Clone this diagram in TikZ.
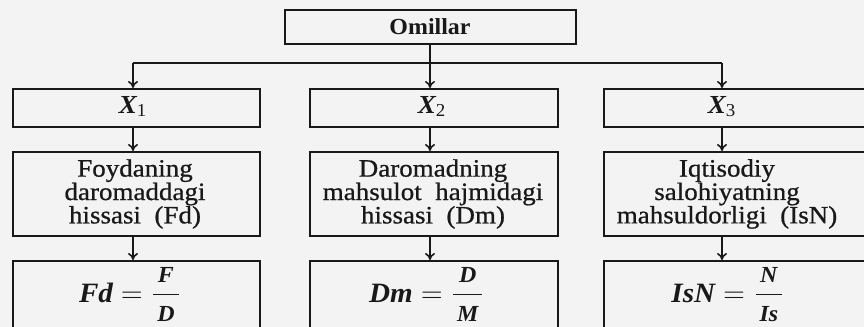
\documentclass[tikz,border=0pt]{standalone}
\usepackage{amsmath}
\usepackage{fontspec}
\setmainfont{Liberation Serif}
\newfontfamily\kitob[FakeStretch=1.08, FakeBold=0.8]{Liberation Serif}
\newfontfamily\qalin[FakeStretch=1.04]{Liberation Serif}
\usetikzlibrary{arrows.meta}
\definecolor{qogoz}{RGB}{243,243,243}
\definecolor{siyoh}{RGB}{25,25,25}
\newcommand\kasrqism[1]{\mbox{\hspace{2pt}\qalin\bfseries\itshape\fontsize{11.5}{13}\selectfont #1\hspace{2pt}}}
\newcommand\kasr[2]{\dfrac{\kasrqism{#1}}{\kasrqism{#2}}}
\newcommand\indeks[1]{_{\text{\mdseries\upshape #1}}}

\begin{document}
\begin{tikzpicture}[
    x=0.5pt, y=-0.5pt,
    >={To[length=3.5pt, width=5pt]},
    ramka/.style={draw=siyoh, line width=1pt, inner sep=0pt, anchor=north west},
    matn/.style={align=center, inner sep=0pt, text=siyoh, font=\kitob\fontsize{12.5}{11.7}\selectfont},
    belgi/.style={inner sep=0pt, anchor=base, text=siyoh, font=\qalin\bfseries\fontsize{13}{15}\selectfont},
    formula/.style={inner sep=0pt, anchor=base, text=siyoh, font=\qalin\bfseries\fontsize{14}{16}\selectfont},
    strelka/.style={->, draw=siyoh, line width=0.8pt}
]

% Sahifa
\fill[qogoz] (0,0) rectangle (864,327);
\useasboundingbox (0,0) rectangle (864,327);
\clip (0,0) rectangle (864,327);

% Yuqori blok
\node[ramka, anchor=center, minimum width=145.5pt, minimum height=17pt,
      text=siyoh, font=\qalin\bfseries\fontsize{11.5}{14}\selectfont] (omil) at (430,27) {Omillar};

% Taqsimlash chizig'i
\coordinate (t1) at (133,63);
\coordinate (t2) at (430,63);
\coordinate (t3) at (722,63);
\draw[siyoh, line width=0.8pt] (t1) -- (t3);
\draw[siyoh, line width=0.8pt] (omil.south) -- (t2);

% Ramkalar: X qatori
\node[ramka, minimum width=123.5pt, minimum height=19pt] (x1) at (12,88) {};
\node[ramka, minimum width=124pt, minimum height=19pt] (x2) at (309,88) {};
\node[ramka, minimum width=133.5pt, minimum height=19pt] (x3) at (603,88) {};

% Ramkalar: ko'rsatkichlar
\node[ramka, minimum width=123.5pt, minimum height=42pt] (f1) at (12,151) {};
\node[ramka, minimum width=124pt, minimum height=42pt] (f2) at (309,151) {};
\node[ramka, minimum width=133.5pt, minimum height=42pt] (f3) at (603,151) {};

% Ramkalar: formulalar
\node[ramka, minimum width=123.5pt, minimum height=45pt] (h1) at (12,260) {};
\node[ramka, minimum width=124pt, minimum height=45pt] (h2) at (309,260) {};
\node[ramka, minimum width=133.5pt, minimum height=45pt] (h3) at (603,260) {};

% Strelkalar
\foreach \k in {1,2,3} {
    \draw[strelka] (t\k) -- (x\k.north -| t\k);
    \draw[strelka] (x\k.south -| t\k) -- (f\k.north -| t\k);
    \draw[strelka] (f\k.south -| t\k) -- (h\k.north -| t\k);
}

% Matnlar
\node[belgi] (bx1) at (133,113) {$\textit{X}\indeks{1}$};
\node[belgi] (bx2) at (432,113) {$\textit{X}\indeks{2}$};
\node[belgi] (bx3) at (722,113) {$\textit{X}\indeks{3}$};

\node[matn] (bf1) at (135,194) {Foydaning\\daromaddagi\\hissasi~ (Fd)};
\node[matn] (bf2) at (433,194) {Daromadning\\mahsulot~ hajmidagi\\hissasi~ (Dm)};
\node[matn] (bf3) at (727,194) {Iqtisodiy\\salohiyatning\\mahsuldorligi~ (IsN)};

\node[formula] (bh1) at (130,302) {$\textit{Fd} = \kasr{F}{D}$};
\node[formula] (bh2) at (427,302) {$\textit{Dm} = \kasr{D}{M}$};
\node[formula] (bh3) at (728,302) {$\textit{IsN} = \kasr{N}{Is}$};

\end{tikzpicture}
\end{document}
